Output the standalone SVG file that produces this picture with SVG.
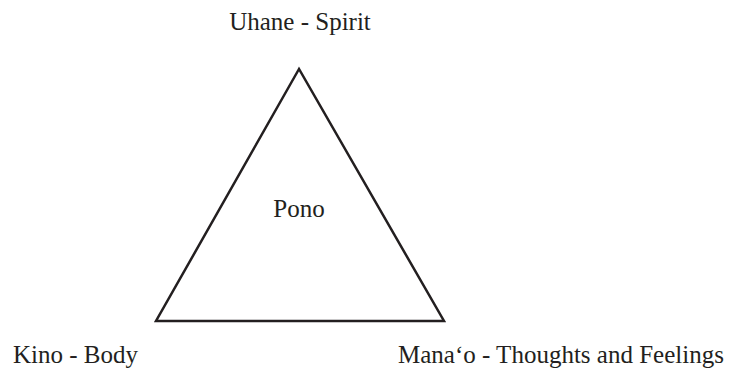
<svg xmlns="http://www.w3.org/2000/svg" width="736" height="372" viewBox="0 0 736 372">
<style>
.lbl{font-family:"Liberation Serif","DejaVu Serif",serif;font-size:25px;fill:#231f20}
.edge{fill:none;stroke:#231f20;stroke-width:2.5;stroke-linejoin:miter}
</style>
<rect width="736" height="372" fill="#ffffff"/>
<g id="connectors">
<polygon class="edge" points="299,69 156,321 444,321"/>
</g>
<g id="node-uhane"><text class="lbl" x="300" y="30" text-anchor="middle">Uhane - Spirit</text></g>
<g id="node-pono"><text class="lbl" x="299" y="217" text-anchor="middle">Pono</text></g>
<g id="node-kino"><text class="lbl" x="13" y="363">Kino - Body</text></g>
<g id="node-manao"><text class="lbl" x="398" y="363">Mana‘o - Thoughts and Feelings</text></g>
</svg>
